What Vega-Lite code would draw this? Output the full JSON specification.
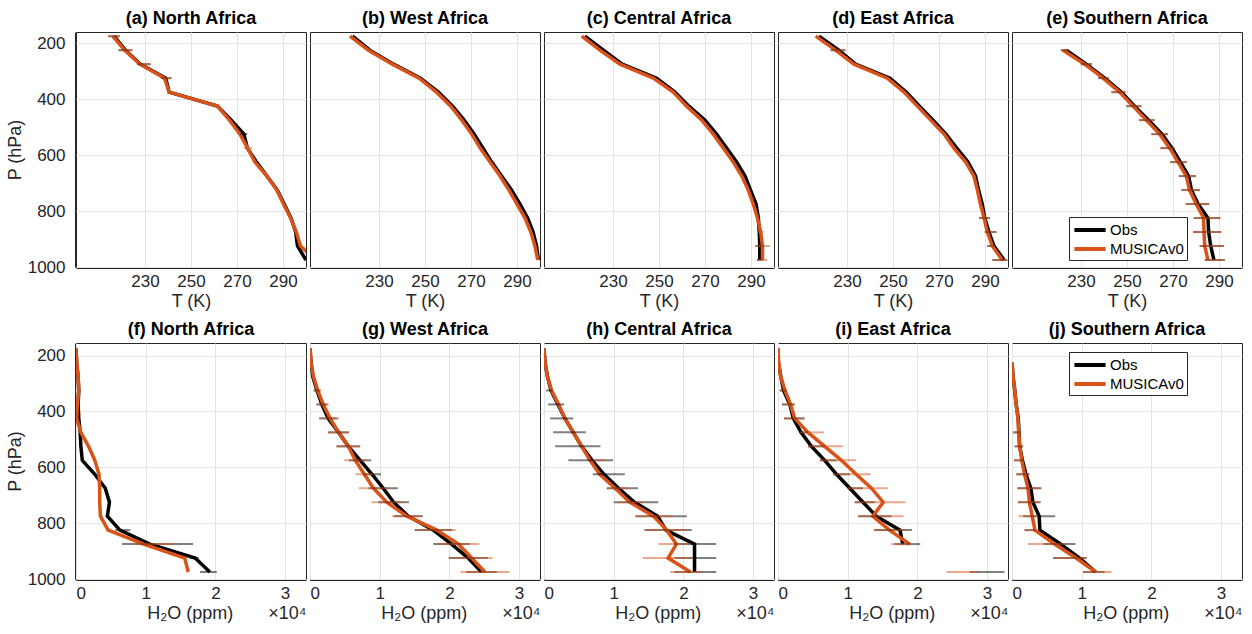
{
"$schema":"https://vega.github.io/schema/vega-lite/v6.json",
"padding":{"left":6,"top":9,"right":5,"bottom":5},
"config":{
 "font":"Liberation Sans",
 "view":{"stroke":"#262626","strokeWidth":1},
 "axis":{"labelFontSize":17,"titleFontSize":18,"labelColor":"#262626","titleColor":"#262626","domainColor":"#262626","tickColor":"#262626","gridColor":"#e3e3e3","titleFontWeight":"normal","tickSize":-4},
 "axisX":{"labelPadding":9,"titlePadding":3},
 "axisY":{"labelPadding":14,"titlePadding":3},
 "header":{"labelFontSize":18,"labelFontWeight":"bold","labelColor":"#000000","labelPadding":4},
 "legend":{"title":null,"orient":"none","symbolType":"M-1.95,0H1.95","symbolSize":256,"symbolStrokeWidth":4,"symbolOpacity":1,"symbolOffset":8,"labelOffset":10,"labelFontSize":15,"labelColor":"#000000","strokeColor":"#262626","fillColor":"#ffffff","padding":3,"rowPadding":1}
},
"datasets":{
"T":[
{"r":"a","s":"Obs","p":175,"x":216.5,"lo":214,"hi":219},{"r":"a","s":"Obs","p":225,"x":221.5,"lo":218.5,"hi":224.5},{"r":"a","s":"Obs","p":275,"x":228,"lo":226.5,"hi":232.5},{"r":"a","s":"Obs","p":325,"x":239,"lo":237,"hi":241.5},{"r":"a","s":"Obs","p":375,"x":240.5},{"r":"a","s":"Obs","p":425,"x":261.5},{"r":"a","s":"Obs","p":475,"x":267.5},{"r":"a","s":"Obs","p":525,"x":273,"lo":271.5,"hi":274.5},{"r":"a","s":"Obs","p":575,"x":274.5},{"r":"a","s":"Obs","p":625,"x":278.5},{"r":"a","s":"Obs","p":675,"x":283},{"r":"a","s":"Obs","p":725,"x":287.5},{"r":"a","s":"Obs","p":775,"x":290.5},{"r":"a","s":"Obs","p":825,"x":293.5},{"r":"a","s":"Obs","p":875,"x":295.5},{"r":"a","s":"Obs","p":925,"x":296.3},{"r":"a","s":"Obs","p":975,"x":300},
{"r":"a","s":"MUSICAv0","p":175,"x":216,"lo":214,"hi":219},{"r":"a","s":"MUSICAv0","p":225,"x":221.2,"lo":218.5,"hi":224.5},{"r":"a","s":"MUSICAv0","p":275,"x":227.8,"lo":226.5,"hi":232.5},{"r":"a","s":"MUSICAv0","p":325,"x":238.5,"lo":237,"hi":241.5},{"r":"a","s":"MUSICAv0","p":375,"x":240.5},{"r":"a","s":"MUSICAv0","p":425,"x":261.5},{"r":"a","s":"MUSICAv0","p":475,"x":266.7},{"r":"a","s":"MUSICAv0","p":525,"x":271.3},{"r":"a","s":"MUSICAv0","p":575,"x":274.6,"lo":273,"hi":276.5},{"r":"a","s":"MUSICAv0","p":625,"x":277.8},{"r":"a","s":"MUSICAv0","p":675,"x":283},{"r":"a","s":"MUSICAv0","p":725,"x":287.3},{"r":"a","s":"MUSICAv0","p":775,"x":290.2},{"r":"a","s":"MUSICAv0","p":825,"x":293.3},{"r":"a","s":"MUSICAv0","p":875,"x":295.8},{"r":"a","s":"MUSICAv0","p":925,"x":297.6},{"r":"a","s":"MUSICAv0","p":975,"x":304},
{"r":"b","s":"Obs","p":175,"x":218.5},{"r":"b","s":"Obs","p":225,"x":226},{"r":"b","s":"Obs","p":275,"x":236.3},{"r":"b","s":"Obs","p":325,"x":248},{"r":"b","s":"Obs","p":375,"x":255.8},{"r":"b","s":"Obs","p":425,"x":262},{"r":"b","s":"Obs","p":475,"x":267},{"r":"b","s":"Obs","p":525,"x":271.4},{"r":"b","s":"Obs","p":575,"x":275.2},{"r":"b","s":"Obs","p":625,"x":279},{"r":"b","s":"Obs","p":675,"x":283.3},{"r":"b","s":"Obs","p":725,"x":287.6},{"r":"b","s":"Obs","p":775,"x":291.3},{"r":"b","s":"Obs","p":825,"x":294.6},{"r":"b","s":"Obs","p":875,"x":297},{"r":"b","s":"Obs","p":925,"x":298.5},{"r":"b","s":"Obs","p":975,"x":299.3},
{"r":"b","s":"MUSICAv0","p":175,"x":217.4},{"r":"b","s":"MUSICAv0","p":225,"x":225.4},{"r":"b","s":"MUSICAv0","p":275,"x":235.8},{"r":"b","s":"MUSICAv0","p":325,"x":247.4},{"r":"b","s":"MUSICAv0","p":375,"x":255},{"r":"b","s":"MUSICAv0","p":425,"x":261.2},{"r":"b","s":"MUSICAv0","p":475,"x":266},{"r":"b","s":"MUSICAv0","p":525,"x":270.3},{"r":"b","s":"MUSICAv0","p":575,"x":274},{"r":"b","s":"MUSICAv0","p":625,"x":278.3},{"r":"b","s":"MUSICAv0","p":675,"x":282.6},{"r":"b","s":"MUSICAv0","p":725,"x":286.5},{"r":"b","s":"MUSICAv0","p":775,"x":290},{"r":"b","s":"MUSICAv0","p":825,"x":293.5},{"r":"b","s":"MUSICAv0","p":875,"x":296},{"r":"b","s":"MUSICAv0","p":925,"x":297.8},{"r":"b","s":"MUSICAv0","p":975,"x":299},
{"r":"c","s":"Obs","p":175,"x":217.8},{"r":"c","s":"Obs","p":225,"x":225.8},{"r":"c","s":"Obs","p":275,"x":234},{"r":"c","s":"Obs","p":325,"x":249},{"r":"c","s":"Obs","p":375,"x":256.9},{"r":"c","s":"Obs","p":425,"x":263},{"r":"c","s":"Obs","p":475,"x":270},{"r":"c","s":"Obs","p":525,"x":275},{"r":"c","s":"Obs","p":575,"x":279.4},{"r":"c","s":"Obs","p":625,"x":283.8},{"r":"c","s":"Obs","p":675,"x":287.4},{"r":"c","s":"Obs","p":725,"x":289.8},{"r":"c","s":"Obs","p":775,"x":292.2},{"r":"c","s":"Obs","p":825,"x":293.2},{"r":"c","s":"Obs","p":875,"x":293.6},{"r":"c","s":"Obs","p":925,"x":293.8,"lo":292,"hi":295.5},{"r":"c","s":"Obs","p":975,"x":293.8,"lo":292.5,"hi":295},
{"r":"c","s":"MUSICAv0","p":175,"x":216.4},{"r":"c","s":"MUSICAv0","p":225,"x":224.3},{"r":"c","s":"MUSICAv0","p":275,"x":233},{"r":"c","s":"MUSICAv0","p":325,"x":247.5},{"r":"c","s":"MUSICAv0","p":375,"x":256.2},{"r":"c","s":"MUSICAv0","p":425,"x":262},{"r":"c","s":"MUSICAv0","p":475,"x":268.6},{"r":"c","s":"MUSICAv0","p":525,"x":273.6},{"r":"c","s":"MUSICAv0","p":575,"x":278},{"r":"c","s":"MUSICAv0","p":625,"x":282.3},{"r":"c","s":"MUSICAv0","p":675,"x":286},{"r":"c","s":"MUSICAv0","p":725,"x":288.8},{"r":"c","s":"MUSICAv0","p":775,"x":291},{"r":"c","s":"MUSICAv0","p":825,"x":292.8},{"r":"c","s":"MUSICAv0","p":875,"x":294.2,"lo":293,"hi":295.5},{"r":"c","s":"MUSICAv0","p":925,"x":295,"lo":291.7,"hi":298.3},{"r":"c","s":"MUSICAv0","p":975,"x":295,"lo":293,"hi":297},
{"r":"d","s":"Obs","p":175,"x":217.8},{"r":"d","s":"Obs","p":225,"x":226.4,"lo":222.9,"hi":229.4},{"r":"d","s":"Obs","p":275,"x":233.7},{"r":"d","s":"Obs","p":325,"x":248.7},{"r":"d","s":"Obs","p":375,"x":255.8},{"r":"d","s":"Obs","p":425,"x":261.5},{"r":"d","s":"Obs","p":475,"x":267.4},{"r":"d","s":"Obs","p":525,"x":273},{"r":"d","s":"Obs","p":575,"x":277.7},{"r":"d","s":"Obs","p":625,"x":282.6},{"r":"d","s":"Obs","p":675,"x":285.9},{"r":"d","s":"Obs","p":725,"x":287.2},{"r":"d","s":"Obs","p":775,"x":288.8},{"r":"d","s":"Obs","p":825,"x":289.9,"lo":287.4,"hi":292.2},{"r":"d","s":"Obs","p":875,"x":291.7,"lo":289.9,"hi":295},{"r":"d","s":"Obs","p":925,"x":293.9,"lo":291,"hi":294},{"r":"d","s":"Obs","p":975,"x":298.3,"lo":293.2,"hi":299.7},
{"r":"d","s":"MUSICAv0","p":175,"x":216.4},{"r":"d","s":"MUSICAv0","p":225,"x":225,"lo":222.9,"hi":229.4},{"r":"d","s":"MUSICAv0","p":275,"x":233},{"r":"d","s":"MUSICAv0","p":325,"x":247.5},{"r":"d","s":"MUSICAv0","p":375,"x":254.8},{"r":"d","s":"MUSICAv0","p":425,"x":260.6},{"r":"d","s":"MUSICAv0","p":475,"x":266.4},{"r":"d","s":"MUSICAv0","p":525,"x":272.2},{"r":"d","s":"MUSICAv0","p":575,"x":276.5},{"r":"d","s":"MUSICAv0","p":625,"x":281.6},{"r":"d","s":"MUSICAv0","p":675,"x":285.2},{"r":"d","s":"MUSICAv0","p":725,"x":286.7},{"r":"d","s":"MUSICAv0","p":775,"x":288},{"r":"d","s":"MUSICAv0","p":825,"x":289.6,"lo":287.4,"hi":292.2},{"r":"d","s":"MUSICAv0","p":875,"x":291,"lo":289.9,"hi":295},{"r":"d","s":"MUSICAv0","p":925,"x":293.2,"lo":291,"hi":294},{"r":"d","s":"MUSICAv0","p":975,"x":297.5,"lo":293.2,"hi":299.7},
{"r":"e","s":"Obs","p":225,"x":223.6,"lo":221.2,"hi":224.6},{"r":"e","s":"Obs","p":275,"x":232.3,"lo":229.9,"hi":234.8},{"r":"e","s":"Obs","p":325,"x":240.3,"lo":237.5,"hi":242},{"r":"e","s":"Obs","p":375,"x":247.5,"lo":243.2,"hi":249.3},{"r":"e","s":"Obs","p":425,"x":253.3,"lo":249.7,"hi":256.2},{"r":"e","s":"Obs","p":475,"x":259.4,"lo":255.2,"hi":262},{"r":"e","s":"Obs","p":525,"x":265.2,"lo":260.6,"hi":267.8},{"r":"e","s":"Obs","p":575,"x":269.6,"lo":264.5,"hi":270.7},{"r":"e","s":"Obs","p":625,"x":273.2,"lo":268.8,"hi":275.9},{"r":"e","s":"Obs","p":675,"x":276.8,"lo":272.5,"hi":280},{"r":"e","s":"Obs","p":725,"x":278,"lo":273.6,"hi":281.7},{"r":"e","s":"Obs","p":775,"x":280.9,"lo":275.5,"hi":285.7},{"r":"e","s":"Obs","p":825,"x":285.2,"lo":279,"hi":290.6},{"r":"e","s":"Obs","p":875,"x":285.5,"lo":278.7,"hi":291},{"r":"e","s":"Obs","p":925,"x":286.4,"lo":281.6,"hi":292.2},{"r":"e","s":"Obs","p":975,"x":287.8,"lo":283.8,"hi":292.5},
{"r":"e","s":"MUSICAv0","p":225,"x":222.2,"lo":221.2,"hi":224.6},{"r":"e","s":"MUSICAv0","p":275,"x":231.6,"lo":229.9,"hi":234.8},{"r":"e","s":"MUSICAv0","p":325,"x":239.6,"lo":237.5,"hi":242},{"r":"e","s":"MUSICAv0","p":375,"x":246.8,"lo":243.2,"hi":249.3},{"r":"e","s":"MUSICAv0","p":425,"x":252.6,"lo":249.7,"hi":256.2},{"r":"e","s":"MUSICAv0","p":475,"x":258.4,"lo":255.2,"hi":262},{"r":"e","s":"MUSICAv0","p":525,"x":264.2,"lo":260.6,"hi":267.8},{"r":"e","s":"MUSICAv0","p":575,"x":268.6,"lo":264.5,"hi":270.7},{"r":"e","s":"MUSICAv0","p":625,"x":272.2,"lo":268.8,"hi":275.9},{"r":"e","s":"MUSICAv0","p":675,"x":275.8,"lo":272.5,"hi":280},{"r":"e","s":"MUSICAv0","p":725,"x":277.2,"lo":273.6,"hi":281.7},{"r":"e","s":"MUSICAv0","p":775,"x":280.1,"lo":275.5,"hi":285.7},{"r":"e","s":"MUSICAv0","p":825,"x":283.3,"lo":279,"hi":290.6},{"r":"e","s":"MUSICAv0","p":875,"x":283.5,"lo":278.7,"hi":291},{"r":"e","s":"MUSICAv0","p":925,"x":283.8,"lo":281.6,"hi":292.2},{"r":"e","s":"MUSICAv0","p":975,"x":285.2,"lo":283.8,"hi":292.5}
],
"H":[
{"r":"f","s":"Obs","p":175,"x":0},{"r":"f","s":"Obs","p":225,"x":100},{"r":"f","s":"Obs","p":275,"x":300},{"r":"f","s":"Obs","p":325,"x":400},{"r":"f","s":"Obs","p":375,"x":300},{"r":"f","s":"Obs","p":425,"x":400},{"r":"f","s":"Obs","p":475,"x":600},{"r":"f","s":"Obs","p":525,"x":700},{"r":"f","s":"Obs","p":575,"x":900},{"r":"f","s":"Obs","p":625,"x":2700},{"r":"f","s":"Obs","p":675,"x":4200},{"r":"f","s":"Obs","p":725,"x":4800},{"r":"f","s":"Obs","p":775,"x":4500},{"r":"f","s":"Obs","p":825,"x":6300,"lo":5600,"hi":7800},{"r":"f","s":"Obs","p":875,"x":10600,"lo":6600,"hi":16800},{"r":"f","s":"Obs","p":925,"x":17100,"lo":16400,"hi":17600},{"r":"f","s":"Obs","p":975,"x":19200,"lo":17800,"hi":20200},
{"r":"f","s":"MUSICAv0","p":175,"x":0},{"r":"f","s":"MUSICAv0","p":225,"x":100},{"r":"f","s":"MUSICAv0","p":275,"x":300},{"r":"f","s":"MUSICAv0","p":325,"x":400},{"r":"f","s":"MUSICAv0","p":375,"x":200},{"r":"f","s":"MUSICAv0","p":425,"x":100},{"r":"f","s":"MUSICAv0","p":475,"x":700},{"r":"f","s":"MUSICAv0","p":525,"x":1800},{"r":"f","s":"MUSICAv0","p":575,"x":2700},{"r":"f","s":"MUSICAv0","p":625,"x":3300},{"r":"f","s":"MUSICAv0","p":675,"x":3400},{"r":"f","s":"MUSICAv0","p":725,"x":3400},{"r":"f","s":"MUSICAv0","p":775,"x":3500},{"r":"f","s":"MUSICAv0","p":825,"x":4600},{"r":"f","s":"MUSICAv0","p":875,"x":9700,"lo":8500,"hi":13900},{"r":"f","s":"MUSICAv0","p":925,"x":15600},{"r":"f","s":"MUSICAv0","p":975,"x":16100},
{"r":"g","s":"Obs","p":175,"x":0},{"r":"g","s":"Obs","p":225,"x":150},{"r":"g","s":"Obs","p":275,"x":400},{"r":"g","s":"Obs","p":325,"x":1000,"lo":500,"hi":1500},{"r":"g","s":"Obs","p":375,"x":1700,"lo":900,"hi":2500},{"r":"g","s":"Obs","p":425,"x":2600,"lo":1300,"hi":3900},{"r":"g","s":"Obs","p":475,"x":4100,"lo":2600,"hi":5600},{"r":"g","s":"Obs","p":525,"x":5500,"lo":3800,"hi":7200},{"r":"g","s":"Obs","p":575,"x":7200,"lo":5600,"hi":8800},{"r":"g","s":"Obs","p":625,"x":8900,"lo":7600,"hi":10200},{"r":"g","s":"Obs","p":675,"x":10500,"lo":8400,"hi":12600},{"r":"g","s":"Obs","p":725,"x":12000,"lo":9800,"hi":14200},{"r":"g","s":"Obs","p":775,"x":14100,"lo":12000,"hi":16200},{"r":"g","s":"Obs","p":825,"x":17700,"lo":15000,"hi":20400},{"r":"g","s":"Obs","p":875,"x":20300,"lo":17700,"hi":22900},{"r":"g","s":"Obs","p":925,"x":22700,"lo":19900,"hi":25500},{"r":"g","s":"Obs","p":975,"x":24600,"lo":22400,"hi":26800},
{"r":"g","s":"MUSICAv0","p":175,"x":0},{"r":"g","s":"MUSICAv0","p":225,"x":150},{"r":"g","s":"MUSICAv0","p":275,"x":500},{"r":"g","s":"MUSICAv0","p":325,"x":1100,"lo":600,"hi":1600},{"r":"g","s":"MUSICAv0","p":375,"x":1900,"lo":1100,"hi":2700},{"r":"g","s":"MUSICAv0","p":425,"x":2900,"lo":1600,"hi":4200},{"r":"g","s":"MUSICAv0","p":475,"x":4100,"lo":2600,"hi":5600},{"r":"g","s":"MUSICAv0","p":525,"x":5500,"lo":3800,"hi":7200},{"r":"g","s":"MUSICAv0","p":575,"x":6500,"lo":4900,"hi":8100},{"r":"g","s":"MUSICAv0","p":625,"x":7800,"lo":6500,"hi":9100},{"r":"g","s":"MUSICAv0","p":675,"x":9100,"lo":7000,"hi":11200},{"r":"g","s":"MUSICAv0","p":725,"x":11000,"lo":8800,"hi":13200},{"r":"g","s":"MUSICAv0","p":775,"x":13900,"lo":11800,"hi":16000},{"r":"g","s":"MUSICAv0","p":825,"x":18200,"lo":15500,"hi":20900},{"r":"g","s":"MUSICAv0","p":875,"x":21300,"lo":18300,"hi":24300},{"r":"g","s":"MUSICAv0","p":925,"x":23200,"lo":20200,"hi":26200},{"r":"g","s":"MUSICAv0","p":975,"x":25100,"lo":21600,"hi":28600},
{"r":"h","s":"Obs","p":175,"x":0},{"r":"h","s":"Obs","p":225,"x":150},{"r":"h","s":"Obs","p":275,"x":500},{"r":"h","s":"Obs","p":325,"x":1000,"lo":300,"hi":1200},{"r":"h","s":"Obs","p":375,"x":2000,"lo":600,"hi":2900},{"r":"h","s":"Obs","p":425,"x":3000,"lo":900,"hi":4200},{"r":"h","s":"Obs","p":475,"x":4200,"lo":1300,"hi":6000},{"r":"h","s":"Obs","p":525,"x":5400,"lo":1600,"hi":8100},{"r":"h","s":"Obs","p":575,"x":6900,"lo":3500,"hi":9900},{"r":"h","s":"Obs","p":625,"x":8600,"lo":7000,"hi":11600},{"r":"h","s":"Obs","p":675,"x":10700,"lo":9000,"hi":13500},{"r":"h","s":"Obs","p":725,"x":13000,"lo":10000,"hi":16400},{"r":"h","s":"Obs","p":775,"x":16300,"lo":13100,"hi":20500},{"r":"h","s":"Obs","p":825,"x":17500,"lo":14400,"hi":21200},{"r":"h","s":"Obs","p":875,"x":21600,"lo":18700,"hi":24700},{"r":"h","s":"Obs","p":925,"x":21600,"lo":18700,"hi":24700},{"r":"h","s":"Obs","p":975,"x":21600,"lo":18700,"hi":24700},
{"r":"h","s":"MUSICAv0","p":175,"x":0},{"r":"h","s":"MUSICAv0","p":225,"x":150},{"r":"h","s":"MUSICAv0","p":275,"x":500},{"r":"h","s":"MUSICAv0","p":325,"x":1100},{"r":"h","s":"MUSICAv0","p":375,"x":2100},{"r":"h","s":"MUSICAv0","p":425,"x":3000},{"r":"h","s":"MUSICAv0","p":475,"x":4200},{"r":"h","s":"MUSICAv0","p":525,"x":5400},{"r":"h","s":"MUSICAv0","p":575,"x":6600,"lo":7000,"hi":8700},{"r":"h","s":"MUSICAv0","p":625,"x":8000},{"r":"h","s":"MUSICAv0","p":675,"x":10200,"lo":9000,"hi":12200},{"r":"h","s":"MUSICAv0","p":725,"x":12300,"lo":10500,"hi":14300},{"r":"h","s":"MUSICAv0","p":775,"x":15700,"lo":13200,"hi":18500},{"r":"h","s":"MUSICAv0","p":825,"x":17600,"lo":14600,"hi":20400},{"r":"h","s":"MUSICAv0","p":875,"x":19000,"lo":16400,"hi":21000},{"r":"h","s":"MUSICAv0","p":925,"x":17800,"lo":14200,"hi":21200},{"r":"h","s":"MUSICAv0","p":975,"x":21000,"lo":18100,"hi":22500},
{"r":"i","s":"Obs","p":175,"x":0},{"r":"i","s":"Obs","p":225,"x":50},{"r":"i","s":"Obs","p":275,"x":400},{"r":"i","s":"Obs","p":325,"x":800,"lo":240,"hi":1200},{"r":"i","s":"Obs","p":375,"x":1700,"lo":570,"hi":2400},{"r":"i","s":"Obs","p":425,"x":2200,"lo":860,"hi":3800},{"r":"i","s":"Obs","p":475,"x":3300,"lo":3100,"hi":4300},{"r":"i","s":"Obs","p":525,"x":4800,"lo":4300,"hi":6700},{"r":"i","s":"Obs","p":575,"x":6700,"lo":6000,"hi":8400},{"r":"i","s":"Obs","p":625,"x":8400,"lo":7900,"hi":10300},{"r":"i","s":"Obs","p":675,"x":10300,"lo":10000,"hi":12200},{"r":"i","s":"Obs","p":725,"x":12200,"lo":11000,"hi":13900},{"r":"i","s":"Obs","p":775,"x":14100,"lo":11500,"hi":16300},{"r":"i","s":"Obs","p":825,"x":17500,"lo":13800,"hi":19200},{"r":"i","s":"Obs","p":875,"x":17900,"lo":16700,"hi":20400},{"r":"i","s":"Obs","p":975,"lo":27500,"hi":32500},
{"r":"i","s":"MUSICAv0","p":175,"x":0},{"r":"i","s":"MUSICAv0","p":225,"x":100},{"r":"i","s":"MUSICAv0","p":275,"x":400},{"r":"i","s":"MUSICAv0","p":325,"x":1000,"lo":240,"hi":1200},{"r":"i","s":"MUSICAv0","p":375,"x":1800,"lo":570,"hi":2400},{"r":"i","s":"MUSICAv0","p":425,"x":2400,"lo":860,"hi":3800},{"r":"i","s":"MUSICAv0","p":475,"x":4300,"lo":3100,"hi":6600},{"r":"i","s":"MUSICAv0","p":525,"x":6700,"lo":4300,"hi":9300},{"r":"i","s":"MUSICAv0","p":575,"x":9100,"lo":6000,"hi":11200},{"r":"i","s":"MUSICAv0","p":625,"x":11200,"lo":7900,"hi":13300},{"r":"i","s":"MUSICAv0","p":675,"x":13400,"lo":10000,"hi":15800},{"r":"i","s":"MUSICAv0","p":725,"x":15100,"lo":11000,"hi":18300},{"r":"i","s":"MUSICAv0","p":775,"x":13600,"lo":11500,"hi":18000},{"r":"i","s":"MUSICAv0","p":825,"x":16000,"lo":13800,"hi":18200},{"r":"i","s":"MUSICAv0","p":875,"x":18900,"lo":16200,"hi":19100},{"r":"i","s":"MUSICAv0","p":975,"lo":24200,"hi":28700},
{"r":"j","s":"Obs","p":225,"x":0},{"r":"j","s":"Obs","p":275,"x":150},{"r":"j","s":"Obs","p":325,"x":400},{"r":"j","s":"Obs","p":375,"x":600},{"r":"j","s":"Obs","p":425,"x":900},{"r":"j","s":"Obs","p":475,"x":1000,"lo":140,"hi":1100},{"r":"j","s":"Obs","p":525,"x":1100,"lo":380,"hi":1600},{"r":"j","s":"Obs","p":575,"x":1500,"lo":290,"hi":1700},{"r":"j","s":"Obs","p":625,"x":2000,"lo":620,"hi":2500},{"r":"j","s":"Obs","p":675,"x":2700,"lo":770,"hi":4200},{"r":"j","s":"Obs","p":725,"x":3000,"lo":860,"hi":4100},{"r":"j","s":"Obs","p":775,"x":3900,"lo":1600,"hi":6200},{"r":"j","s":"Obs","p":825,"x":4000,"lo":1800,"hi":3300},{"r":"j","s":"Obs","p":875,"x":7000,"lo":4500,"hi":9100},{"r":"j","s":"Obs","p":925,"x":9700,"lo":5900,"hi":10700},{"r":"j","s":"Obs","p":975,"x":12000,"lo":10200,"hi":13300},
{"r":"j","s":"MUSICAv0","p":225,"x":0},{"r":"j","s":"MUSICAv0","p":275,"x":150},{"r":"j","s":"MUSICAv0","p":325,"x":400},{"r":"j","s":"MUSICAv0","p":375,"x":600},{"r":"j","s":"MUSICAv0","p":425,"x":850},{"r":"j","s":"MUSICAv0","p":475,"x":950,"lo":140,"hi":1100},{"r":"j","s":"MUSICAv0","p":525,"x":1100,"lo":380,"hi":1600},{"r":"j","s":"MUSICAv0","p":575,"x":1400,"lo":290,"hi":1700},{"r":"j","s":"MUSICAv0","p":625,"x":1800,"lo":620,"hi":2500},{"r":"j","s":"MUSICAv0","p":675,"x":2300,"lo":770,"hi":4200},{"r":"j","s":"MUSICAv0","p":725,"x":2500,"lo":860,"hi":4100},{"r":"j","s":"MUSICAv0","p":775,"x":2900,"lo":960,"hi":3700},{"r":"j","s":"MUSICAv0","p":825,"x":3300,"lo":1800,"hi":3300},{"r":"j","s":"MUSICAv0","p":875,"x":6100,"lo":2300,"hi":7600},{"r":"j","s":"MUSICAv0","p":925,"x":9200,"lo":5900,"hi":10700},{"r":"j","s":"MUSICAv0","p":975,"x":12000,"lo":10400,"hi":14300}
]
},
"resolve":{"scale":{"x":"independent","y":"independent","color":"independent"},"legend":{"color":"independent"}},
"spacing":10,
"vconcat":[
{
 "data":{"name":"T"},
 "facet":{"field":"r","type":"nominal","title":null,"header":{"labelExpr":"{'a':'(a) North Africa','b':'(b) West Africa','c':'(c) Central Africa','d':'(d) East Africa','e':'(e) Southern Africa'}[datum.value]"}},
 "columns":5,
 "spacing":2,
 "spec":{
  "width":230,"height":235,
  "encoding":{
   "y":{"field":"p","type":"quantitative","scale":{"domain":[160,1000],"reverse":true,"nice":false,"zero":false},"axis":{"values":[200,400,600,800,1000],"format":"d","title":"P (hPa)"}},
   "color":{"field":"s","type":"nominal","scale":{"domain":["Obs","MUSICAv0"],"range":["#000000","#D95319"]},"legend":{"legendX":993,"legendY":185,"labelFontSize":15}}
  },
  "layer":[
   {"transform":[{"filter":"datum.s==='Obs' && isValid(datum.x)"}],"mark":{"type":"line","strokeWidth":3.5,"clip":true},"encoding":{"x":{"field":"x","type":"quantitative","scale":{"domain":[200,300],"nice":false,"zero":false},"axis":{"values":[230,250,270,290],"title":"T (K)"}},"order":{"field":"p"}}},
   {"transform":[{"filter":"datum.s==='MUSICAv0' && isValid(datum.x)"}],"mark":{"type":"line","strokeWidth":3.5,"clip":true},"encoding":{"x":{"field":"x","type":"quantitative"},"order":{"field":"p"}}},
   {"transform":[{"filter":"isValid(datum.lo)"}],"mark":{"type":"rule","strokeWidth":2,"opacity":0.5,"clip":true},"encoding":{"x":{"field":"lo","type":"quantitative"},"x2":{"field":"hi"}}}
  ]
 }
},
{
 "data":{"name":"H"},
 "facet":{"field":"r","type":"nominal","title":null,"header":{"labelExpr":"{'f':'(f) North Africa','g':'(g) West Africa','h':'(h) Central Africa','i':'(i) East Africa','j':'(j) Southern Africa'}[datum.value]"}},
 "columns":5,
 "spacing":2,
 "spec":{
  "width":230,"height":236,
  "encoding":{
   "y":{"field":"p","type":"quantitative","scale":{"domain":[155,1000],"reverse":true,"nice":false,"zero":false},"axis":{"values":[200,400,600,800,1000],"format":"d","title":"P (hPa)"}},
   "color":{"field":"s","type":"nominal","scale":{"domain":["Obs","MUSICAv0"],"range":["#000000","#D95319"]},"legend":{"legendX":993,"legendY":9,"labelFontSize":15}}
  },
  "layer":[
   {"transform":[{"filter":"datum.s==='Obs' && isValid(datum.x)"}],"mark":{"type":"line","strokeWidth":3.5,"clip":true},"encoding":{"x":{"field":"x","type":"quantitative","scale":{"domain":[0,33000],"nice":false},"axis":{"values":[0,10000,20000,30000],"labelExpr":"datum.value/10000","title":"H₂O (ppm)\u00a0\u00a0\u00a0\u00a0\u00a0\u00a0\u00a0×10⁴","titleAnchor":"end","titleAlign":"right"}},"order":{"field":"p"}}},
   {"transform":[{"filter":"datum.s==='MUSICAv0' && isValid(datum.x)"}],"mark":{"type":"line","strokeWidth":3.5,"clip":true},"encoding":{"x":{"field":"x","type":"quantitative"},"order":{"field":"p"}}},
   {"transform":[{"filter":"isValid(datum.lo)"}],"mark":{"type":"rule","strokeWidth":2,"opacity":0.5,"clip":true},"encoding":{"x":{"field":"lo","type":"quantitative"},"x2":{"field":"hi"}}}
  ]
 }
}
]
}
